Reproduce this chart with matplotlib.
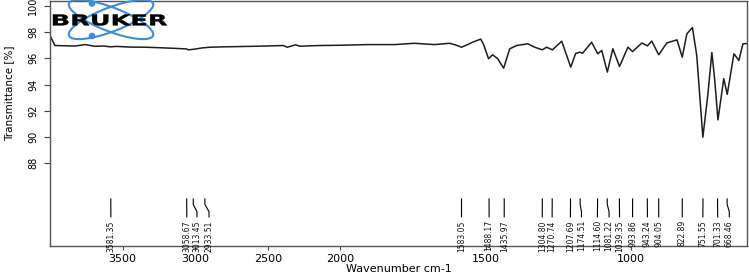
import matplotlib
matplotlib.use("Agg")
import matplotlib.pyplot as plt
import numpy as np
from matplotlib.patches import Ellipse, Circle, PathPatch
from matplotlib.textpath import TextPath
from matplotlib.font_manager import FontProperties
from matplotlib.transforms import Affine2D

# spectrum (wavenumber, transmittance %)
wavenumber = [4000, 3966, 3897, 3828, 3759, 3690, 3630, 3586, 3540, 3448, 3345, 3241,
              3117, 3060, 3048, 3013, 3000, 2950, 2897, 2800, 2690, 2600, 2517, 2393,
              2366, 2310, 2276, 2200, 2138, 2000, 1907, 1814, 1745, 1676, 1624, 1603,
              1583, 1562, 1545, 1525, 1517, 1507, 1490, 1476, 1459, 1438, 1417, 1393,
              1355, 1331, 1305, 1290, 1270, 1238, 1207, 1190, 1176, 1166, 1135, 1114,
              1100, 1081, 1062, 1039, 1010, 994, 962, 943, 928, 904, 876, 841, 823,
              807, 788, 773, 752, 735, 721, 711, 700, 680, 668, 645, 628, 614, 600]
transmittance = [97.74, 96.98, 96.96, 96.94, 97.05, 96.92, 96.94, 96.88, 96.91, 96.86,
                 96.85, 96.81, 96.75, 96.72, 96.65, 96.69, 96.71, 96.80, 96.85, 96.88,
                 96.90, 96.92, 96.94, 96.98, 96.85, 97.03, 96.92, 96.96, 96.98, 97.00,
                 97.05, 97.05, 97.15, 97.05, 97.15, 97.02, 96.85, 97.05, 97.23, 97.40,
                 97.47, 97.05, 95.97, 96.27, 95.99, 95.25, 96.73, 96.98, 97.11, 96.85,
                 96.65, 96.85, 96.65, 97.31, 95.33, 96.37, 96.47, 96.39, 97.23, 96.35,
                 96.60, 94.95, 96.73, 95.38, 96.85, 96.52, 97.17, 96.95, 97.32, 96.27,
                 97.18, 97.41, 96.09, 97.87, 98.35, 96.22, 89.98, 93.18, 96.45, 94.32,
                 91.31, 94.45, 93.25, 96.35, 95.84, 97.11, 97.13]

peaks = [3581.35, 3058.67, 3013.45, 2933.51, 1583.05, 1488.17, 1435.97, 1304.80,
         1270.74, 1207.69, 1174.51, 1114.60, 1081.22, 1039.35, 993.86, 943.24,
         904.05, 822.89, 751.55, 701.33, 668.46]
# where the label sits (shifted where labels would collide)
label_pos = [3581, 3058, 2988, 2905, 1583, 1488, 1436, 1305,
             1271, 1208, 1170, 1115, 1075, 1039, 994, 943,
             904, 823, 752, 701, 661]

yticks = [88, 90, 92, 94, 96, 98, 100]
xticks = [3500, 3000, 2500, 2000, 1500, 1000]

narrow = ['Liberation Sans Narrow', 'DejaVu Sans']


def fwd(w):
    w = np.asarray(w, dtype=float)
    return np.where(w >= 2000, w, 2 * w - 2000)


def inv(p):
    p = np.asarray(p, dtype=float)
    return np.where(p >= 2000, p, (p + 2000) / 2)


fig = plt.figure(figsize=(7.49, 2.74), dpi=100)
ax = fig.add_axes([50 / 749, 1 - 245.7 / 274, 697 / 749, 245 / 274])
ax.set_xscale('function', functions=(fwd, inv))
ax.plot(wavenumber, transmittance, color='#1e1e1e', lw=1.1)
ax.set_xlim(4000, 600)
ax.set_ylim(81.7, 100.4)

# peak markers
for w, lw_ in zip(peaks, label_pos):
    ax.plot([w, w, lw_, lw_], [85.27, 84.85, 84.3, 83.9], color='black', lw=0.8)
    ax.text(lw_, 83.65, f'{w:.2f}', rotation=90, ha='center', va='top',
            fontsize=5.5, family=narrow, color='#111111')

ax.set_xticks(xticks)
ax.set_xticklabels([str(t) for t in xticks], fontsize=8)
ax.xaxis.set_minor_locator(matplotlib.ticker.NullLocator())
ax.set_yticks(yticks)
ax.set_yticklabels([str(t) for t in yticks], rotation=90, va='center',
                   fontsize=7, family=narrow)
ax.tick_params(axis='x', length=3, pad=3, color='#444444')
ax.tick_params(axis='y', length=4.5, pad=4, color='#444444')
for s in ax.spines.values():
    s.set_color('#555555')
    s.set_linewidth(1.0)

fig.text(398.5 / 749, 1 - 269 / 274, 'Wavenumber cm-1', ha='center', va='center', fontsize=8)
fig.text(9 / 749, 1 - 93 / 274, 'Transmittance [%]', rotation=90, ha='center',
         va='center', fontsize=7.5, family=narrow)

# Bruker logo drawn in pixel coordinates
lg = fig.add_axes([0, 0, 1, 1], facecolor='none')
lg.set_xlim(0, 749)
lg.set_ylim(274, 0)
lg.axis('off')
blue = '#3a8edb'
lg.add_patch(Ellipse((111, 19.5), 90, 24, angle=21, fill=False, ec=blue, lw=1.5))
lg.add_patch(Ellipse((111, 19.5), 90, 24, angle=-21, fill=False, ec=blue, lw=1.5))
lg.add_patch(Circle((92, 3.5), 2.6, color=blue))
lg.add_patch(Circle((92, 36), 2.6, color=blue))

# stretch the word to fill the logo box
tp = TextPath((0, 0), 'BRUKER', size=14, prop=FontProperties(family='DejaVu Sans', weight='bold'))
ext = tp.get_extents()
sx = (167 - 53) / ext.width
sy = (25.5 - 14.5) / ext.height
tr = Affine2D().translate(-ext.x0, -ext.y0).scale(sx, -sy).translate(53, 25.5)
lg.add_patch(PathPatch(tr.transform_path(tp), fc='black', ec='black', lw=0.3))

fig.savefig('out.png', dpi=100)
